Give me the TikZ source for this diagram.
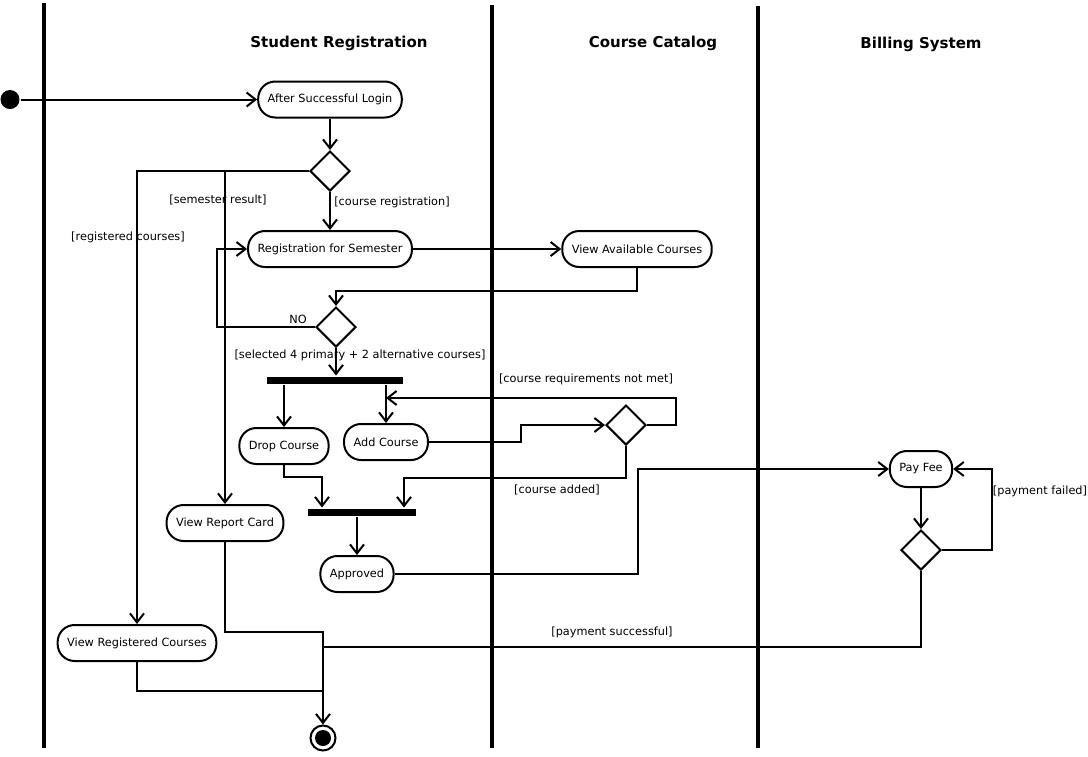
\documentclass[tikz,border=0pt]{standalone}
\usepackage{fontspec}
\setmainfont{DejaVu Sans}
\usetikzlibrary{arrows.meta,calc,positioning,shapes.geometric}

\begin{document}
\begin{tikzpicture}[x=1pt,y=-1pt,>={Straight Barb[length=9pt,width=14pt]},line width=2pt,
    font=\fontsize{11.3}{13}\selectfont,
    act/.style={draw,rounded corners=17pt,minimum height=36pt,inner xsep=9.5pt},
    dec/.style={draw,diamond,minimum width=40pt,minimum height=40pt,inner sep=0pt},
    bar/.style={fill=black,minimum height=7pt,inner sep=0pt},
    grd/.style={inner sep=1pt},
    lane/.style={line width=4pt},
    hdr/.style={font=\bfseries\fontsize{15}{18}\selectfont}]
  \useasboundingbox (0,0) rectangle (1088,756);
  \foreach \lx/\ly in {44/3, 492/5, 758/6}
    \draw[lane] (\lx,\ly) -- (\lx,748);
  \node[hdr] (hsr) at (339,43) {Student Registration};
  \node[hdr] (hcc) at (653,43) {Course Catalog};
  \node[hdr] (hbs) at (921,44) {Billing System};

  \node[circle,fill,minimum size=19pt,inner sep=0pt] (init) at (10,99.5) {};
  \node[act] (a1) at (330,99.5) {After Successful Login};
  \node[dec] (d1) at (330,171) {};
  \node[act] (a2) at (330,249) {Registration for Semester};
  \node[act] (a3) at (637,249) {View Available Courses};
  \node[dec] (d2) at (336,327) {};
  \node[bar,minimum width=136pt] (fk1) at (335,380) {};
  \node[act] (dc) at (284,446) {Drop Course};
  \node[act] (ac) at (386,442) {Add Course};
  \node[dec] (d3) at (626,425) {};
  \node[bar,minimum width=108pt] (jn1) at (362,512) {};
  \node[act] (ap) at (357,574) {Approved};
  \node[act] (a7) at (225,523) {View Report Card};
  \node[act] (a8) at (137,643) {View Registered Courses};
  \node[act] (pf) at (921,469) {Pay Fee};
  \node[dec] (d4) at (921,550) {};
  \node[circle,draw,minimum size=25pt,inner sep=0pt] (fin) at (323,738) {};
  \fill (fin) circle (8);

  \coordinate (acin) at (386,398);
  \coordinate (mrg) at (323,632);
  \coordinate (mrg2) at (323,647);
  \coordinate (mrg3) at (323,691);

  \draw[->] (init) -- (a1.west);
  \draw[->] (a1) -- (d1);
  \draw[->] (d1) -- (a2);
  \draw[->] (d1.west) -| (a8.north);
  \draw[->] (d1.west) -| (a7.north);
  \draw[->] (a2) -- (a3);
  \draw[->] (a3.south) -- ++(0,23) -| (d2.north);
  \draw[->] (d2.west) -- ++(-98,0) |- (a2.west);
  \draw[->] (d2) -- (d2 |- fk1.north);
  \draw[->] (dc |- fk1.south) -- (dc);
  \draw[->] (ac |- fk1.south) -- (ac);
  \draw[->] (ac.east) -- ++(92,0) |- (d3.west);
  \draw[->] (d3.east) -- ++(29,0) |- (acin);
  \draw[->] (d3.south) -- ++(0,32) -| ($(jn1.north)+(42,0)$);
  \draw[->] (dc.south) -- ++(0,12) -| ($(jn1.north)+(-40,0)$);
  \draw[->] (ap |- jn1.south) -- (ap);
  \draw[->] (ap.east) -- ++(243,0) |- (pf.west);
  \draw[->] (pf) -- (d4);
  \draw[->] (d4.east) -- ++(50,0) |- (pf.east);
  \draw[->] (a7.south) |- (mrg) -- (fin);
  \draw (d4.south) |- (mrg2);
  \draw (a8.south) |- (mrg3);

  \node[grd] (gsr) at (218,200) {[semester result]};
  \node[grd] (gcr) at (392,202) {[course registration]};
  \node[grd] (grc) at (128,237) {[registered courses]};
  \node[grd] (gno) at (298,319) {NO};
  \node[grd] (gsel) at (360,355) {[selected 4 primary + 2 alternative courses]};
  \node[grd] (grq) at (586,379) {[course requirements not met]};
  \node[grd] (gadd) at (557,490) {[course added]};
  \node[grd] (gpf) at (1040,491) {[payment failed]};
  \node[grd] (gps) at (612,632) {[payment successful]};
\end{tikzpicture}
\end{document}
